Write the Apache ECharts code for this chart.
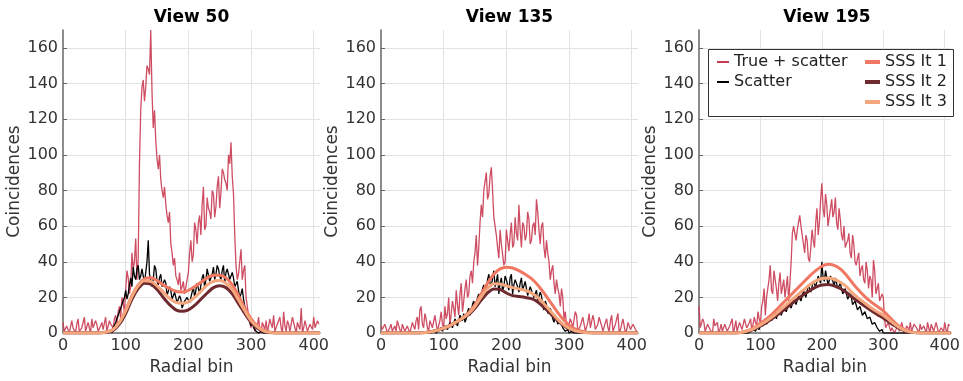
<!DOCTYPE html>
<html>
<head>
<meta charset="utf-8">
<script src="https://cdn.jsdelivr.net/npm/echarts@6/dist/echarts.min.js"></script>
<style>
html,body{margin:0;padding:0;background:#fff;}
#chart{width:963px;height:381px;}
</style>
</head>
<body>
<div id="chart"></div>
<script>
// titles and legend names
var viewTitles = ['View 50', 'View 135', 'View 195'];
var names = ['True + scatter', 'Scatter', 'SSS It 1', 'SSS It 2', 'SSS It 3'];

// noisy profiles, read at radial bins 0,4,8 .. 408 ("A") and 2,6,10 .. 406 ("B")
var trueV50A = [6,2,5,1,3,0,8,2,4,1, 6,0,3,7,1,4,2,9,1,5, 3,10,12,8,17,24,31,26,36,53,
	42,125,142,138,148,170,115,108,92,86, 76,72,62,50,38,32,27,24,29,23, 34,52,44,58,62,55,82,60,70,64,
	78,71,88,79,90,84,100,107,78,38, 33,47,35,20,10,3,6,2,9,0, 4,7,1,5,10,2,6,3,12,1,
	5,2,8,0,4,14,3,6,1,4, 9,2,5];
var trueV50B = [1,4,0,7,2,5,1,3,9,2, 3,8,2,5,0,6,3,1,7,4, 8,5,15,20,12,35,22,45,40,30,
	95,138,130,150,145,135,125,98,100,80, 82,66,68,45,42,30,34,26,22,30, 45,40,62,50,66,72,58,76,68,80,
	65,82,70,92,86,80,95,88,55,30, 40,30,38,15,6,8,1,4,2,6, 2,0,8,3,1,5,9,0,4,7,
	1,9,3,6,2,0,7,1,5,2, 3,7];
var scatV50A = [0,0,0,0,0,0,0,0,0,0, 0,0,0,0,0,0,0,1,0,2, 3,6,10,14,17,24,22,31,37,30,
	38,32,35,29,52,34,30,36,27,33, 25,28,22,24,18,20,16,19,15,17, 21,18,26,24,29,27,33,30,35,31,
	37,33,36,30,38,34,33,29,31,27, 24,22,19,13,9,4,3,1,0,1, 0,0,0,0,0,0,0,0,0,0,
	0,0,0,0,0,0,0,0,0,0, 0,0,0];
var scatV50B = [0,0,0,0,0,0,0,0,0,0, 0,0,0,0,0,0,0,0,1,0, 4,8,12,16,20,19,27,26,32,36,
	30,36,28,40,33,26,38,29,31,26, 30,21,26,19,23,17,21,14,18,20, 17,23,20,28,22,31,25,36,29,33,
	30,38,32,35,28,36,30,34,26,29, 20,25,15,11,6,7,2,0,1,0, 0,0,0,0,0,0,0,0,0,0,
	0,0,0,0,0,0,0,0,0,0, 0,0];
var trueV135A = [4,1,3,0,5,2,1,6,0,3, 2,5,1,4,7,2,15,3,8,1, 6,2,9,4,12,3,8,20,5,14,
	24,10,28,18,30,22,35,40,55,48, 72,80,90,78,93,65,55,42,50,38, 58,46,62,50,56,72,48,60,55,64,
	52,62,75,58,60,48,52,40,35,28, 30,22,25,8,4,1,6,2,10,0, 5,8,2,11,3,7,1,9,4,2,
	8,1,10,3,6,0,5,9,2,7, 3,6,1];
var trueV135B = [2,5,0,3,1,4,7,2,5,1, 4,0,6,2,9,13,5,11,3,7, 3,10,1,7,5,15,11,4,18,9,
	16,22,12,25,20,32,28,45,38,62, 65,85,75,88,80,60,48,58,44,40, 52,55,48,65,52,58,62,52,68,50,
	60,55,68,50,62,42,45,30,38,22, 25,15,20,12,2,8,3,12,1,4, 9,1,6,3,10,2,5,8,1,6,
	3,7,1,5,11,2,8,0,6,2, 5,2];
var scatV135A = [0,0,0,0,0,0,0,0,0,0, 0,0,0,0,0,0,0,0,0,0, 0,1,0,2,3,2,5,3,6,4,
	7,5,9,11,8,14,12,18,16,22, 20,27,24,33,26,35,29,22,31,26, 30,24,33,27,29,23,31,25,28,22,
	26,20,24,17,21,13,16,10,12,6, 9,4,5,2,1,0,1,0,0,0, 0,0,0,0,0,0,0,0,0,0,
	0,0,0,0,0,0,0,0,0,0, 0,0,0];
var scatV135B = [0,0,0,0,0,0,0,0,0,0, 0,0,0,0,0,0,0,0,0,0, 0,2,1,3,1,4,2,6,3,8,
	4,10,7,6,12,10,16,14,20,18, 25,22,30,28,31,26,33,28,24,32, 27,31,22,30,26,28,24,29,21,26,
	22,19,18,23,15,18,11,14,8,10, 5,7,3,1,2,0,0,1,0,0, 0,0,0,0,0,0,0,0,0,0,
	0,0,0,0,0,0,0,0,0,0, 0,0];
var trueV195A = [15,2,6,0,4,1,8,3,0,5, 2,6,1,3,0,7,2,4,1,5, 3,8,2,6,12,5,18,10,25,38,
	22,30,18,34,26,20,32,28,56,60, 58,66,55,45,52,40,58,48,70,62, 84,65,72,60,75,68,62,70,55,60,
	48,56,42,50,38,45,36,30,40,25, 30,41,22,28,18,20,3,6,1,4, 0,5,2,7,1,3,6,0,4,2,
	5,1,3,6,0,4,2,5,1,3, 6,0,4];
var trueV195B = [3,8,1,5,2,0,4,6,2,1, 5,1,4,8,3,1,6,2,8,3, 6,1,9,4,8,15,25,20,30,24,
	35,25,28,22,30,26,18,40,60,52, 62,60,50,55,42,48,52,62,55,75, 70,78,60,70,65,76,58,64,52,48,
	52,45,55,40,42,32,38,28,35,32, 20,35,25,18,22,8,2,5,3,0, 3,1,6,0,4,2,1,5,3,0,
	2,4,0,3,5,1,6,0,3,1, 2,5];
var scatV195A = [0,0,0,0,0,0,0,0,0,0, 0,0,0,0,0,0,0,0,0,0, 0,1,2,1,3,5,4,8,6,10,
	7,12,9,14,11,16,13,18,15,20, 17,22,19,25,21,28,24,30,27,33, 40,29,34,28,33,26,30,24,27,21,
	24,18,20,15,17,12,14,9,11,7, 8,4,5,2,1,0,0,0,0,0, 0,0,0,0,0,0,0,0,0,0,
	0,0,0,0,0,0,0,0,0,0, 0,0,0];
var scatV195B = [0,0,0,0,0,0,0,0,0,0, 0,0,0,0,0,0,0,0,0,0, 0,0,1,3,2,4,6,5,9,7,
	10,8,13,10,15,12,17,14,19,16, 21,18,24,20,27,23,29,26,32,28, 31,35,27,32,29,31,25,28,22,25,
	19,22,16,18,13,15,10,12,8,9, 5,6,3,1,2,0,1,0,0,0, 0,0,0,0,0,0,0,0,0,0,
	0,0,0,0,0,0,0,0,0,0, 0,0];

// SSS estimates, one value every 10 radial bins (0 .. 410)
var sss1V50 = [0,0,0,0,0,0, 0.2,0.6,2,6,13,21,27,30.5,31,29.5,27,25,23.5,23,24,26,28.5,31,32.5,32.5,31,27,21,14,8,4,1.5,0.5,0.1, 0,0,0,0,0,0,0];
var sss2V50 = [0,0,0,0,0,0, 0.1,0.4,1.5,5,11,19,25,28,27.5,24.5,20,16,13,12.2,13,15.5,19,22.5,25.5,26.5,25.5,22,16.5,11,6,2.8,1,0.3,0.1, 0,0,0,0,0,0,0];
var sss3V50 = [0,0,0,0,0,0, 0.2,0.6,2,6,12.5,20.5,26.5,29.3,29,26.5,23,19.5,17.2,16.7,17.5,20,23.5,27,29,29.5,28,24.5,18.5,12.5,7,3.5,1.3,0.4,0.1, 0,0,0,0,0,0,0];
var sss1V135 = [0,0,0,0,0,0,0.1,0.3, 0.8,1.6,2.8,4.3,6.3,8.5,11.5,16,22,28,33,36,37,36.5,35,33,30.5,27,22.5,17.5,12.5,8,4.5,2.2,1,0.4,0.1, 0,0,0,0,0,0,0];
var sss2V135 = [0,0,0,0,0,0,0.1,0.3, 0.8,1.6,2.7,4,6,8,10.5,14,18.5,22.5,24.8,24.5,22.5,21,20.5,20,19.3,17.5,14.5,11,7.5,4.5,2.5,1.2,0.5,0.2,0.1, 0,0,0,0,0,0,0];
var sss3V135 = [0,0,0,0,0,0,0.1,0.3, 0.8,1.6,2.8,4.2,6.2,8.3,11,15,20.5,25,27.7,27.5,26.5,25.5,24.8,24,22.5,20,16.5,12.5,8.5,5,2.8,1.3,0.6,0.2,0.1, 0,0,0,0,0,0,0];
var sss1V195 = [0,0,0,0,0,0, 0.1,0.5,1.5,3,5.5,8,11,14.5,18,21.5,25,28.5,32,35,37.5,38.6,38,36,32.5,28,24,20.5,17.5,15,12.5,9,5.5,2.8,1.2,0.4,0.1, 0,0,0,0,0];
var sss2V195 = [0,0,0,0,0,0, 0.1,0.4,1.1,2.2,4,6,8.3,10.8,13.5,16.3,19,21.5,23.8,25.8,27,27.3,26.5,25,22.8,20,17.5,15,12.7,10.5,8.5,6,3.8,2,0.8,0.3,0.1, 0,0,0,0,0];
var sss3V195 = [0,0,0,0,0,0, 0.1,0.5,1.3,2.6,4.6,6.8,9.3,12.2,15.2,18.3,21.3,24.2,27,29.3,30.6,30.9,30.2,28.5,26,22.5,19.5,16.8,14.2,12,10,7.2,4.5,2.4,1,0.3,0.1, 0,0,0,0,0];

var bins10 = [];
for (var b = 0; b <= 410; b += 10) bins10.push(b);

var colors = ['#c93a52', '#000000', '#f07862', '#6e2a2e', '#f4a67c'];
var font = 'DejaVu Sans';

// smooth curves: pair with their bins
function pairs(xs, ys){
	return ys.map(function(v, i){ return [xs[i], v]; });
}
// noisy curves: interleave the two readings (bins 4k and 4k+2)
function merge(a, bArr){
	var out = [];
	for (var i = 0; i < a.length; i++) {
		out.push([i * 4, a[i]]);
		if (i < bArr.length) out.push([i * 4 + 2, bArr[i]]);
	}
	return out;
}

var panels = [
	[merge(trueV50A, trueV50B), merge(scatV50A, scatV50B), sss1V50, sss2V50, sss3V50],
	[merge(trueV135A, trueV135B), merge(scatV135A, scatV135B), sss1V135, sss2V135, sss3V135],
	[merge(trueV195A, trueV195B), merge(scatV195A, scatV195B), sss1V195, sss2V195, sss3V195]
];
var gridLeft = [63, 381, 699];
var gridRight = [643, 325, 8];

var grids = [], xAxes = [], yAxes = [], titles = [], series = [];
for (var p = 0; p < 3; p++) {
	grids.push({left: gridLeft[p], right: gridRight[p], top: 30, bottom: 39, containLabel: false});
	var plotW = 963 - gridLeft[p] - gridRight[p];
	titles.push({
		text: viewTitles[p],
		left: gridLeft[p] + plotW / 2,
		top: 9,
		padding: 0,
		textAlign: 'center',
		textStyle: {fontFamily: font, fontSize: 17, fontWeight: 'bold', color: '#000'}
	});
	xAxes.push({
		gridIndex: p, type: 'value', min: 0, max: 410, interval: 100,
		name: 'Radial bin', nameLocation: 'middle', nameGap: 21,
		nameTextStyle: {fontFamily: font, fontSize: 17, color: '#333'},
		axisLine: {lineStyle: {color: '#666', width: 1.5}},
		axisTick: {show: false},
		axisLabel: {fontFamily: font, fontSize: 16, color: '#333', margin: 5, showMaxLabel: false},
		splitLine: {show: true, showMinLine: false, showMaxLine: false, lineStyle: {color: '#e2e2e2', width: 1}}
	});
	yAxes.push({
		gridIndex: p, type: 'value', min: 0, max: 170, interval: 20,
		name: 'Coincidences', nameLocation: 'middle', nameGap: 39,
		nameTextStyle: {fontFamily: font, fontSize: 17, color: '#333'},
		axisLine: {show: true, lineStyle: {color: '#666', width: 1.5}},
		axisTick: {show: true, inside: true, length: 4, lineStyle: {color: '#666'}},
		axisLabel: {fontFamily: font, fontSize: 16, color: '#333', margin: 5, showMaxLabel: false},
		splitLine: {show: true, showMinLine: false, showMaxLine: false, lineStyle: {color: '#e2e2e2', width: 1}}
	});
	for (var s = 0; s < 5; s++) {
		var thin = s < 2;
		series.push({
			name: names[s],
			type: 'line',
			xAxisIndex: p,
			yAxisIndex: p,
			data: thin ? panels[p][s] : pairs(bins10, panels[p][s]),
			symbol: 'none',
			smooth: thin ? false : 0.3,
			lineStyle: {color: colors[s], width: thin ? 1.3 : 3, opacity: s === 0 ? 0.9 : 1},
			itemStyle: {color: colors[s]},
			z: 2 + s,
			animation: false
		});
	}
}

var legendText = {fontFamily: font, fontSize: 16, color: '#222'};
var option = {
	backgroundColor: '#fff',
	animation: false,
	title: titles,
	grid: grids,
	xAxis: xAxes,
	yAxis: yAxes,
	legend: [
		{
			data: [names[0], names[1]],
			icon: 'rect',
			orient: 'vertical', left: 717, top: 54, padding: 0,
			itemWidth: 12, itemHeight: 2, itemGap: 4,
			textStyle: legendText, z: 10
		},
		{
			data: [names[2], names[3], names[4]],
			icon: 'rect',
			orient: 'vertical', left: 865, top: 54, padding: 0,
			itemWidth: 15, itemHeight: 4, itemGap: 4,
			textStyle: legendText, z: 10
		}
	],
	graphic: [{
		type: 'rect', z: 9,
		shape: {x: 708.5, y: 49.5, width: 245, height: 67},
		style: {fill: '#fff', stroke: '#333', lineWidth: 1}
	}],
	series: series
};

var chart = echarts.init(document.getElementById('chart'));
chart.setOption(option);
</script>
</body>
</html>
